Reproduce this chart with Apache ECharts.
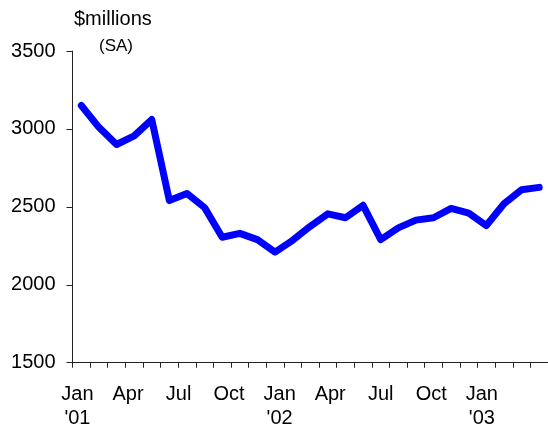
<!DOCTYPE html>
<html>
<head>
<meta charset="utf-8">
<script src="https://cdn.jsdelivr.net/npm/echarts@6/dist/echarts.min.js"></script>
<style>html,body{margin:0;padding:0;background:#fff}#c{width:548px;height:430px}</style>
</head>
<body>
<div id="c"></div>
<script>
const months = ["Jan '01","Feb '01","Mar '01","Apr '01","May '01","Jun '01","Jul '01","Aug '01","Sep '01","Oct '01","Nov '01","Dec '01",
  "Jan '02","Feb '02","Mar '02","Apr '02","May '02","Jun '02","Jul '02","Aug '02","Sep '02","Oct '02","Nov '02","Dec '02",
  "Jan '03","Feb '03","Mar '03"];
const tickLabels = ["Jan\n'01","","","Apr","","","Jul","","","Oct","","",
  "Jan\n'02","","","Apr","","","Jul","","","Oct","","",
  "Jan\n'03","",""];
const values = [3150,3010,2900,2955,3060,2540,2585,2495,2305,2330,2290,2210,
  2285,2375,2455,2430,2510,2290,2365,2415,2430,2490,2460,2380,
  2520,2610,2625];
const yTicks = {min:1500, max:3500, step:500};

const chart = echarts.init(document.getElementById('c'), null, {renderer:'canvas'});
const font = 'Liberation Sans, Arial, sans-serif';
chart.setOption({
  animation:false,
  backgroundColor:'#fff',
  title:[
    {text:'$millions', left:69, top:4, textStyle:{fontFamily:font, fontSize:20, fontWeight:'normal', color:'#000'}},
    {text:'(SA)', left:94, top:33, textStyle:{fontFamily:font, fontSize:17, fontWeight:'normal', color:'#000'}}
  ],
  grid:[
    {left:72.5, top:51, width:478, height:311.7},
    {left:69, top:51, width:455, height:311.7}
  ],
  xAxis:[
    {type:'category', gridIndex:0, data:months, boundaryGap:true,
     axisLine:{lineStyle:{color:'#222', width:1}},
     axisTick:{show:true, interval:0, length:5, lineStyle:{color:'#222'}},
     axisLabel:{show:false}, splitLine:{show:false}},
    {type:'category', gridIndex:1, data:tickLabels, boundaryGap:true,
     axisLine:{show:false}, axisTick:{show:false}, splitLine:{show:false},
     axisLabel:{show:true, interval:0, margin:20, fontFamily:font, fontSize:20, lineHeight:24, color:'#000', align:'center'}}
  ],
  yAxis:[
    {type:'value', gridIndex:0, min:yTicks.min, max:yTicks.max, interval:yTicks.step,
     axisLine:{show:true, lineStyle:{color:'#222', width:1}},
     axisTick:{show:true, length:6, lineStyle:{color:'#222'}},
     splitLine:{show:false},
     axisLabel:{margin:17, fontFamily:font, fontSize:20, color:'#000', formatter:function(v){return String(v);}}},
    {type:'value', gridIndex:1, min:yTicks.min, max:yTicks.max, show:false}
  ],
  series:[
    {type:'line', xAxisIndex:0, yAxisIndex:0, data:values, symbol:'none',
     lineStyle:{color:'#0000FF', width:7, cap:'round', join:'round'}}
  ]
});
</script>
</body>
</html>
